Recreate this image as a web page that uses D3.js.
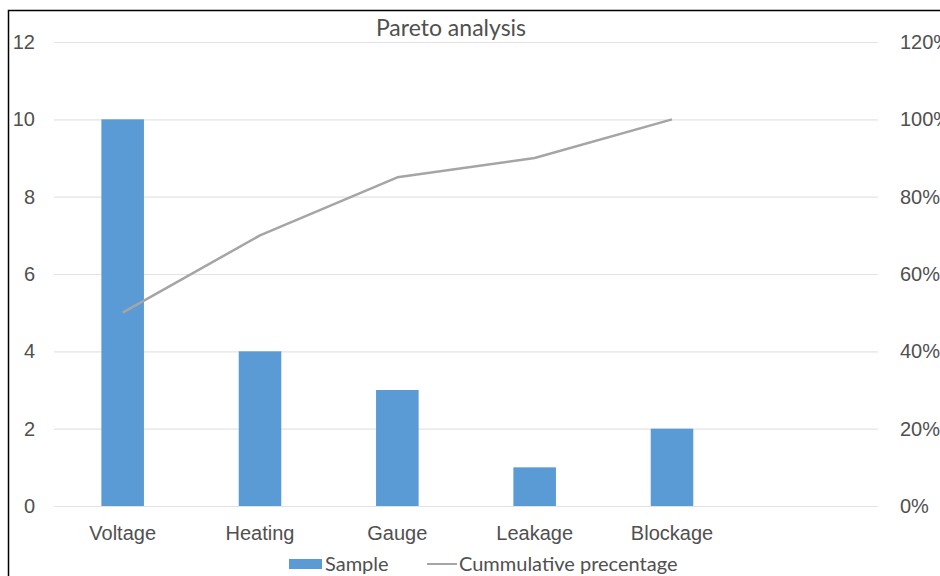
<!DOCTYPE html>
<html>
<head>
<meta charset="utf-8">
<script src="https://cdn.jsdelivr.net/npm/d3@7"></script>
<style>
  html, body { margin: 0; padding: 0; background: #fff; }
  svg { display: block; font-family: Lato, "Open Sans", sans-serif; }
</style>
</head>
<body>
<svg id="chart" width="940" height="576"></svg>
<script>
// Defect counts and their cumulative share
const categories = ["Voltage", "Heating", "Gauge", "Leakage", "Blockage"];
const sample = [10, 4, 3, 1, 2];
const cumulative = [0.50, 0.70, 0.85, 0.90, 1.00];
const leftTicks = [0, 2, 4, 6, 8, 10, 12];
const rightTicks = [0, 0.2, 0.4, 0.6, 0.8, 1.0, 1.2];

const svg = d3.select("#chart");
const textColor = "#505050";
const gridColor = "#e3e3e3";
const barColor = "#5b9bd5";
const lineColor = "#a5a5a5";
const labelSize = "20px";

const plot = { left: 54, right: 878, top: 42, bottom: 506 };

// frame around the chart area
svg.append("rect")
  .attr("x", 8.5).attr("y", 10.5)
  .attr("width", 960).attr("height", 600)
  .attr("fill", "none").attr("stroke", "#000").attr("stroke-width", 1.5);

// one spare slot on the right keeps the band layout of the category axis
const x = d3.scaleBand()
  .domain(categories.concat(["\u00a0"]))
  .range([plot.left, plot.right])
  .paddingInner(0.69)
  .paddingOuter(0.345);

const y = d3.scaleLinear().domain([0, 12]).range([plot.bottom, plot.top]);
const y2 = d3.scaleLinear().domain([0, 1.2]).range([plot.bottom, plot.top]);

// horizontal gridlines
svg.append("g")
  .selectAll("line")
  .data(leftTicks)
  .join("line")
  .attr("x1", plot.left).attr("x2", plot.right)
  .attr("y1", d => y(d) + 0.5).attr("y2", d => y(d) + 0.5)
  .attr("stroke", gridColor).attr("stroke-width", 1.2);

// left axis
const leftAxis = svg.append("g")
  .attr("transform", `translate(${plot.left},0)`)
  .call(d3.axisLeft(y).tickValues(leftTicks).tickSize(0).tickPadding(19));
leftAxis.select(".domain").remove();
leftAxis.selectAll("text")
  .attr("fill", textColor).style("font-size", labelSize);

// right axis
const rightAxis = svg.append("g")
  .attr("transform", `translate(${plot.right},0)`)
  .call(d3.axisRight(y2).tickValues(rightTicks).tickSize(0).tickPadding(22)
    .tickFormat(d3.format(".0%")));
rightAxis.select(".domain").remove();
rightAxis.selectAll("text")
  .attr("fill", textColor).style("font-size", labelSize);

// category axis
const bottomAxis = svg.append("g")
  .attr("transform", `translate(0,${plot.bottom})`)
  .call(d3.axisBottom(x).tickValues(categories).tickSize(0).tickPadding(20));
bottomAxis.select(".domain").remove();
bottomAxis.selectAll("text")
  .attr("fill", textColor).style("font-size", labelSize);

// bars
svg.append("g")
  .selectAll("rect")
  .data(categories)
  .join("rect")
  .attr("x", d => x(d))
  .attr("width", x.bandwidth())
  .attr("y", (d, i) => y(sample[i]))
  .attr("height", (d, i) => y(0) - y(sample[i]))
  .attr("fill", barColor);

// cumulative line
const line = d3.line()
  .x((d, i) => x(categories[i]) + x.bandwidth() / 2)
  .y(d => y2(d));
svg.append("path")
  .datum(cumulative)
  .attr("d", line)
  .attr("fill", "none")
  .attr("stroke", lineColor)
  .attr("stroke-width", 2.5)
  .attr("stroke-linejoin", "round");

// title
svg.append("text")
  .attr("x", 451).attr("y", 36)
  .attr("text-anchor", "middle")
  .attr("fill", textColor)
  .style("font-size", "23px")
  .text("Pareto analysis");

// legend
const legend = svg.append("g").attr("transform", "translate(0,564)");
legend.append("rect")
  .attr("x", 289).attr("y", -5).attr("width", 33).attr("height", 10)
  .attr("fill", barColor);
legend.append("text")
  .attr("x", 325).attr("y", 0).attr("dy", "0.35em")
  .attr("fill", textColor).style("font-size", labelSize)
  .text("Sample");
legend.append("line")
  .attr("x1", 427).attr("x2", 457).attr("y1", 0).attr("y2", 0)
  .attr("stroke", lineColor).attr("stroke-width", 2);
legend.append("text")
  .attr("x", 459).attr("y", 0).attr("dy", "0.35em")
  .attr("fill", textColor).style("font-size", labelSize)
  .text("Cummulative precentage");
</script>
</body>
</html>
